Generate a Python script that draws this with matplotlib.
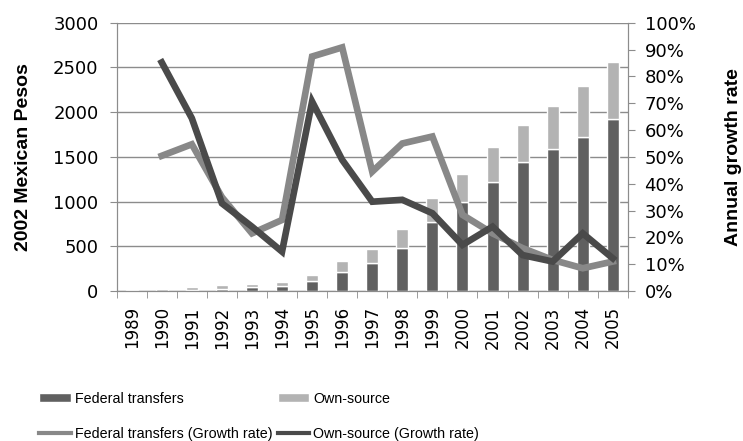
import numpy as np
import matplotlib
matplotlib.use("Agg")
import matplotlib.pyplot as plt
from matplotlib.patches import Patch
from matplotlib.lines import Line2D
from matplotlib.ticker import FuncFormatter

years = [str(y) for y in range(1989, 2006)]
federal = [3, 6, 15, 25, 40, 58, 112, 212, 312, 480, 775, 998, 1220, 1442, 1585, 1720, 1918]
own_source = [5, 14, 33, 38, 42, 38, 71, 119, 156, 212, 260, 314, 389, 409, 485, 577, 639]
fed_growth = [np.nan, 50.4, 54.7, 35.0, 21.5, 26.5, 87.4, 90.8, 44.5, 55.0, 57.6,
              28.4, 21.5, 16.0, 11.6, 8.5, 11.0]
own_growth = [np.nan, 85.2, 64.4, 32.7, 24.0, 14.7, 70.6, 48.9, 33.3, 34.0, 29.0,
              17.2, 24.0, 13.4, 11.0, 21.5, 12.2]

FED_COL = "#606060"
OWN_COL = "#b3b3b3"
FED_LINE = "#888888"
OWN_LINE = "#4a4a4a"
AXIS_COL = "#8c8c8c"
TICK_FONT = ["DejaVu Sans"]
TEXT_FONT = ["Liberation Sans", "DejaVu Sans"]

plt.rcParams.update({
    "font.family": TEXT_FONT,
    "font.size": 13,
})

fig = plt.figure(figsize=(7.43, 4.41), dpi=100)
ax = fig.add_axes([0.157, 0.340, 0.688, 0.6085])
x = np.arange(len(years))

ax.bar(x, federal, width=0.4, color=FED_COL, edgecolor="white", linewidth=1.0, zorder=2)
ax.bar(x, own_source, width=0.4, bottom=federal, color=OWN_COL, edgecolor="white",
       linewidth=1.0, zorder=2)
ax.set_ylim(0, 3000)
ax.set_yticks(range(0, 3001, 500))
ax.set_xlim(-0.5, len(years) - 0.5)
ax.set_xticks(x)
ax.set_xticklabels(years, rotation=90, family=TICK_FONT, fontsize=12)
ax.set_xticks(np.arange(-0.5, len(years), 1.0), minor=True)
ax.tick_params(axis="x", which="major", length=0, pad=11)
ax.tick_params(axis="x", which="minor", length=5, color=AXIS_COL)
ax.tick_params(axis="y", length=5, color=AXIS_COL, pad=8)
for lbl in ax.get_yticklabels():
    lbl.set_family(TICK_FONT)
ax.grid(axis="y", color=AXIS_COL, linewidth=1.0)
ax.set_axisbelow(True)
ax.set_ylabel("2002 Mexican Pesos", fontweight="bold", fontsize=14, labelpad=15)
ax.spines["top"].set_visible(False)
for side in ["left", "bottom", "right"]:
    ax.spines[side].set_color(AXIS_COL)

ax2 = ax.twinx()
ax2.plot(x, fed_growth, color=FED_LINE, linewidth=4.8, solid_joinstyle="miter", zorder=3)
ax2.plot(x, own_growth, color=OWN_LINE, linewidth=4.8, solid_joinstyle="miter", zorder=4)
ax2.set_ylim(0, 100)
ax2.set_yticks(range(0, 101, 10))
ax2.yaxis.set_major_formatter(FuncFormatter(lambda v, p: f"{v:.0f}%"))
ax2.tick_params(axis="y", length=5, color=AXIS_COL, pad=7)
for lbl in ax2.get_yticklabels():
    lbl.set_family(TICK_FONT)
ax2.set_ylabel("Annual growth rate", fontweight="bold", fontsize=14, labelpad=21)
ax2.spines["top"].set_visible(False)
for side in ["left", "bottom", "right"]:
    ax2.spines[side].set_color(AXIS_COL)

handles = [
    Patch(facecolor=FED_COL, edgecolor="white"),
    Line2D([], [], color=FED_LINE, linewidth=3),
    Patch(facecolor=OWN_COL, edgecolor="white"),
    Line2D([], [], color=OWN_LINE, linewidth=3),
]
labels = ["Federal transfers", "Federal transfers (Growth rate)",
          "Own-source", "Own-source (Growth rate)"]
fig.legend(handles, labels, ncol=2, loc="upper left", bbox_to_anchor=(0.045, 0.125),
           frameon=False, fontsize=10.3, handlelength=2.2, handleheight=0.55,
           handletextpad=0.3, columnspacing=0.35, labelspacing=1.5, borderaxespad=0)

fig.savefig("out.png", dpi=100)
